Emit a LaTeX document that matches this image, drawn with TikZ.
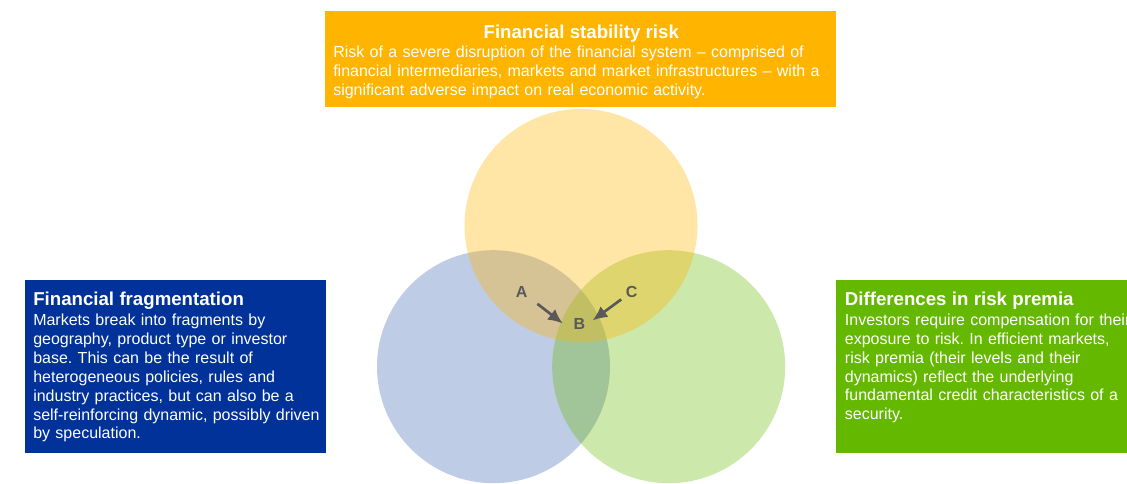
\documentclass[tikz,border=0pt]{standalone}
\usepackage{fontspec}
\setmainfont{Liberation Sans}
\usetikzlibrary{positioning, arrows.meta}
\definecolor{stabOrange}{HTML}{FFB400}
\definecolor{fragBlue}{HTML}{003299}
\definecolor{premGreen}{HTML}{65B800}
\definecolor{lblGray}{HTML}{595959}
\newcommand*{\boxhead}{\fontsize{14}{17}\selectfont\bfseries}
\frenchspacing
\tikzset{
  infobox/.style={rectangle, inner sep=0pt, anchor=north west},
  infotext/.style={inner sep=0pt, text=white, align=left, text width=240pt, font=\fontsize{12}{14.2}\selectfont},
  venn/.style={circle, inner sep=0pt, minimum size=174.75pt},
  letter/.style={text=lblGray, font=\fontsize{12}{14}\selectfont\bfseries},
  pointer/.style={-{Latex[length=11pt,width=10pt]}, line width=2pt, lblGray},
}

\begin{document}
\begin{tikzpicture}[x=0.75pt, y=0.75pt]
 \useasboundingbox (0,0) rectangle (1127,483);
 % venn circles
 \node[venn, fill=fragBlue, fill opacity=0.25] (fragCircle) at (493.5,116.3) {};
 \node[venn, fill=premGreen, fill opacity=0.33] (premCircle) at (668.7,116.3) {};
 \node[venn, fill=stabOrange, fill opacity=0.35] (stabCircle) at (581,257.5) {};

 % boxes
 \node[infobox, fill=stabOrange, minimum width=383pt, minimum height=71.5pt] (stabBox) at (325,472) {};
 \node[infobox, fill=fragBlue, minimum width=225.75pt, minimum height=129.2pt] (fragBox) at (25,203) {};
 \node[infobox, fill=premGreen, minimum width=225pt, minimum height=129.2pt] (premBox) at (836,203) {};

 \node[infotext, text width=372pt, below right=10pt and 6pt of stabBox.north west] (stabText) {{\centering\boxhead Financial stability risk\par}\vspace{0.6pt}Risk of a severe disruption of the financial system – comprised of\\ financial intermediaries, markets and market infrastructures – with a\\ significant adverse impact on real economic activity.};
 \node[infotext, below right=9pt and 6pt of fragBox.north west] (fragText) {{\boxhead Financial fragmentation\par}\vspace{0.5pt}Markets break into fragments by\\ geography, product type or investor\\ base. This can be the result of\\ heterogeneous policies, rules and\\ industry practices, but can also be a\\ self-reinforcing dynamic, possibly driven\\ by speculation.};
 \node[infotext, below right=8.6pt and 6.5pt of premBox.north west] (premText) {{\boxhead Differences in risk premia\par}\vspace{0.8pt}Investors require compensation for their\\ exposure to risk. In efficient markets,\\ risk premia (their levels and their\\ dynamics) reflect the underlying\\ fundamental credit characteristics of a\\ security.};

 % labels
 \node[letter] (lblA) at (521.7,191.3) {A};
 \node[letter] (lblB) at (579.3,158.7) {B};
 \node[letter] (lblC) at (631.7,191.3) {C};
 \draw[pointer, shorten <=4.9pt, shorten >=5.7pt] (lblA) -- (lblB.200);
 \draw[pointer, shorten >=2.6pt] (lblC) -- (lblB.10);
\end{tikzpicture}
\end{document}
